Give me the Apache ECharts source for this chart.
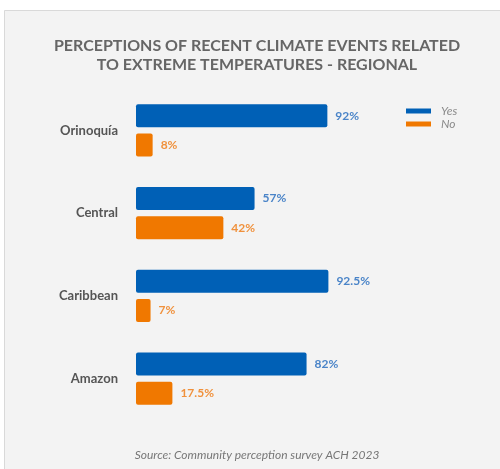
<!DOCTYPE html>
<html lang="en">
<head>
    <meta charset="UTF-8">
    <title>Extreme temperatures - regional</title>
    <script src="https://cdn.jsdelivr.net/npm/echarts@6/dist/echarts.min.js"></script>
    <style>
        html, body { margin: 0; padding: 0; background: #fff; }
        #chart { width: 500px; height: 469px; }
    </style>
</head>
<body>
<div id="chart"></div>
<script type="text/javascript">
    // data
    var regions = ['Orinoquía', 'Central', 'Caribbean', 'Amazon'];
    var yesValues = [92, 57, 92.5, 82];
    var noValues = [8, 42, 7, 17.5];
    var seriesNames = ['Yes', 'No'];

    var myChart = echarts.init(document.getElementById('chart'));

    var option = {
        backgroundColor: '#ffffff',
        textStyle: { fontFamily: 'Lato' },
        graphic: [{
            type: 'rect',
            z: -10,
            shape: { x: 4.5, y: 10.5, width: 500, height: 470 },
            style: { fill: '#f3f3f3', stroke: '#d9d9d9', lineWidth: 1 }
        }],
        title: {
            text: 'PERCEPTIONS OF RECENT CLIMATE EVENTS RELATED\nTO EXTREME TEMPERATURES - REGIONAL',
            left: 252,
            top: 31,
            textAlign: 'center',
            textStyle: {
                fontFamily: 'Lato',
                fontSize: 16,
                fontWeight: 'bold',
                color: '#666666',
                lineHeight: 19
            },
            subtext: 'Source: Community perception survey ACH 2023',
            subtextStyle: {
                fontFamily: 'Lato',
                fontSize: 12,
                fontStyle: 'italic',
                color: '#777777'
            },
            itemGap: 375
        },
        legend: {
            orient: 'vertical',
            left: 401,
            top: 100,
            itemWidth: 25,
            itemHeight: 5,
            itemGap: 1,
            icon: 'rect',
            data: seriesNames,
            textStyle: {
                fontFamily: 'Lato',
                fontStyle: 'italic',
                fontSize: 12,
                color: '#8a8a8a',
                padding: [0, 0, 0, 5]
            }
        },
        grid: {
            left: 136,
            right: 156,
            top: 89,
            bottom: 49
        },
        xAxis: {
            type: 'value',
            min: 0,
            max: 100,
            show: false
        },
        yAxis: {
            type: 'category',
            inverse: true,
            data: regions,
            axisLine: { show: false },
            axisTick: { show: false },
            splitLine: { show: false },
            axisLabel: {
                margin: 18,
                fontFamily: 'Lato',
                fontSize: 13,
                fontWeight: 'bold',
                color: '#555555'
            }
        },
        series: [
            {
                name: seriesNames[0],
                type: 'bar',
                data: yesValues,
                barWidth: 23,
                barGap: '27%',
                barCategoryGap: '37%',
                itemStyle: { color: '#0060b6', borderRadius: 2 },
                label: {
                    show: true,
                    position: 'right',
                    distance: 8,
                    formatter: '{c}%',
                    fontFamily: 'Lato',
                    fontSize: 12,
                    fontWeight: 'bold',
                    color: '#4a84c8'
                }
            },
            {
                name: seriesNames[1],
                type: 'bar',
                data: noValues,
                barWidth: 23,
                itemStyle: { color: '#f07800', borderRadius: 2 },
                label: {
                    show: true,
                    position: 'right',
                    distance: 8,
                    formatter: '{c}%',
                    fontFamily: 'Lato',
                    fontSize: 12,
                    fontWeight: 'bold',
                    color: '#f0913c'
                }
            }
        ]
    };

    myChart.setOption(option);
</script>
</body>
</html>
